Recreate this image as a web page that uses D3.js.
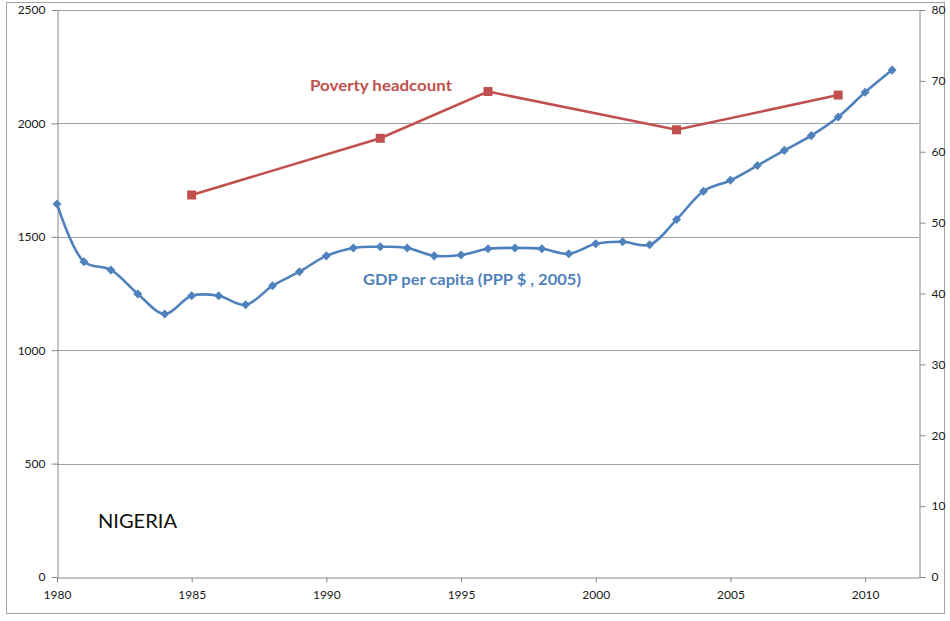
<!DOCTYPE html>
<html>
<head>
<meta charset="utf-8">
<script src="https://cdn.jsdelivr.net/npm/d3@7"></script>
<style>
  html, body { margin: 0; padding: 0; background: #fff; }
  svg { display: block; font-family: Lato, "Open Sans", sans-serif; }
</style>
</head>
<body>
<svg id="chart" width="950" height="621"></svg>
<script>
// GDP per capita (PPP $, 2005), Nigeria, 1980–2011
const gdpYears = d3.range(1980, 2012);
const gdpValues = [1645, 1390, 1354, 1248, 1160, 1240, 1240, 1200, 1284, 1346,
                   1416, 1451, 1456, 1451, 1416, 1420, 1447, 1451, 1447, 1425,
                   1469, 1478, 1465, 1576, 1701, 1749, 1814, 1881, 1946, 2028,
                   2137, 2235];

// Poverty headcount ratio (% of population)
const povYears = [1985, 1992, 1996, 2003, 2009];
const povValues = [53.9, 61.9, 68.5, 63.1, 68.0];

const xTicks = [1980, 1985, 1990, 1995, 2000, 2005, 2010];
const leftTicks = [0, 500, 1000, 1500, 2000, 2500];
const rightTicks = [0, 10, 20, 30, 40, 50, 60, 70, 80];

const blue = "#4F81BD";
const red = "#C0504D";
const axisGrey = "#888888";

const svg = d3.select("#chart");

// outer frame
svg.append("rect")
  .attr("x", 6.5).attr("y", 2.5).attr("width", 938).attr("height", 611)
  .attr("fill", "#fff").attr("stroke", "#a6a6a6").attr("stroke-width", 1);

const plot = { left: 57, right: 919, top: 10, bottom: 577 };

const x = d3.scaleLinear().domain([1980, 2012]).range([plot.left, plot.right]);
const yL = d3.scaleLinear().domain([0, 2500]).range([plot.bottom, plot.top]);
const yR = d3.scaleLinear().domain([0, 80]).range([plot.bottom, plot.top]);

// horizontal gridlines
svg.append("g")
  .selectAll("line")
  .data(leftTicks.filter(d => d > 0))
  .join("line")
  .attr("x1", plot.left).attr("x2", plot.right)
  .attr("y1", d => Math.round(yL(d)) + 0.5).attr("y2", d => Math.round(yL(d)) + 0.5)
  .attr("stroke", "#a0a0a0").attr("stroke-width", 1);

function styleAxis(g) {
  g.select(".domain").attr("stroke", axisGrey);
  g.selectAll(".tick line").attr("stroke", axisGrey);
  g.selectAll(".tick text")
    .attr("fill", "#1a1a1a")
    .style("font-size", "12px")
    .style("font-family", "Lato, 'Open Sans', sans-serif");
}

const intFmt = d3.format("d");

// left axis
svg.append("g")
  .attr("transform", `translate(${plot.left + 0.5},0)`)
  .call(d3.axisLeft(yL).tickValues(leftTicks).tickFormat(intFmt)
        .tickSize(6).tickSizeOuter(0).tickPadding(6))
  .call(styleAxis);

// right axis
svg.append("g")
  .attr("transform", `translate(${plot.right + 0.5},0)`)
  .call(d3.axisRight(yR).tickValues(rightTicks).tickFormat(intFmt)
        .tickSize(6).tickSizeOuter(0).tickPadding(6))
  .call(styleAxis);

// bottom axis
svg.append("g")
  .attr("transform", `translate(0,${plot.bottom + 0.5})`)
  .call(d3.axisBottom(x).tickValues(xTicks).tickFormat(intFmt)
        .tickSize(5).tickSizeOuter(0).tickPadding(8))
  .call(styleAxis);

// GDP per capita — smoothed line with diamond markers
const gdpData = gdpYears.map((yr, i) => ({ yr, v: gdpValues[i] }));
svg.append("path")
  .datum(gdpData)
  .attr("fill", "none")
  .attr("stroke", blue)
  .attr("stroke-width", 2.6)
  .attr("stroke-linejoin", "round")
  .attr("d", d3.line().x(d => x(d.yr)).y(d => yL(d.v)).curve(d3.curveCatmullRom.alpha(0.5)));

svg.append("g")
  .selectAll("path")
  .data(gdpData)
  .join("path")
  .attr("transform", d => `translate(${x(d.yr)},${yL(d.v)}) rotate(45)`)
  .attr("d", "M-3.2,-3.2H3.2V3.2H-3.2Z")
  .attr("fill", blue);

// Poverty headcount — straight line with square markers
const povData = povYears.map((yr, i) => ({ yr, v: povValues[i] }));
svg.append("path")
  .datum(povData)
  .attr("fill", "none")
  .attr("stroke", red)
  .attr("stroke-width", 2.6)
  .attr("d", d3.line().x(d => x(d.yr)).y(d => yR(d.v)));

svg.append("g")
  .selectAll("rect")
  .data(povData)
  .join("rect")
  .attr("x", d => x(d.yr) - 4.5).attr("y", d => yR(d.v) - 4.5)
  .attr("width", 9).attr("height", 9)
  .attr("fill", red);

// series labels
svg.append("text")
  .attr("x", 310).attr("y", 91)
  .attr("fill", red)
  .attr("font-weight", "bold")
  .style("font-size", "15.5px")
  .attr("textLength", 142).attr("lengthAdjust", "spacingAndGlyphs")
  .text("Poverty headcount");

svg.append("text")
  .attr("x", 363).attr("y", 285)
  .attr("fill", blue)
  .attr("font-weight", "bold")
  .style("font-size", "15.5px")
  .attr("textLength", 218).attr("lengthAdjust", "spacingAndGlyphs")
  .text("GDP per capita (PPP $ , 2005)");

svg.append("text")
  .attr("x", 98).attr("y", 528)
  .attr("fill", "#111")
  .style("font-size", "19px")
  .attr("textLength", 79).attr("lengthAdjust", "spacingAndGlyphs")
  .text("NIGERIA");
</script>
</body>
</html>
